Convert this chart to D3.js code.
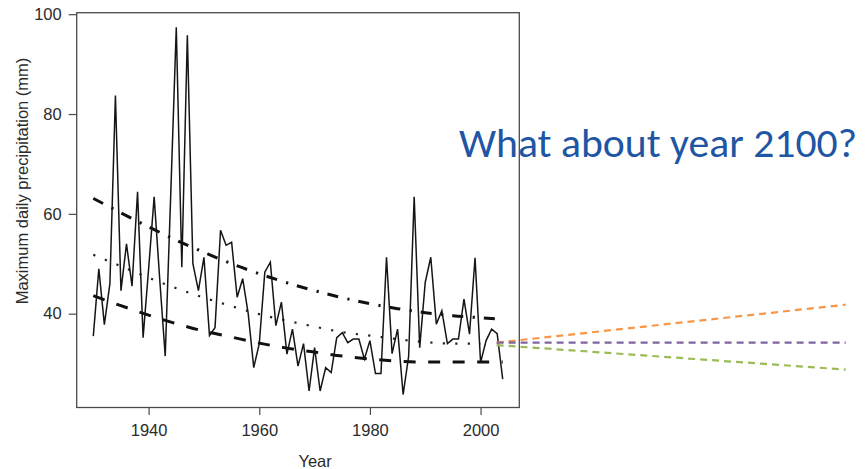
<!DOCTYPE html>
<html>
<head>
<meta charset="utf-8">
<script src="https://cdn.jsdelivr.net/npm/d3@7"></script>
<style>
  html, body { margin: 0; padding: 0; background: #fff; }
  svg { display: block; }
</style>
</head>
<body>
<svg id="chart" width="866" height="469"></svg>
<script>
// ---------- data ----------
const years = d3.range(1930, 2005);
const maxPrecip = [
  35.5, 49, 37.8, 46, 83.7, 44.6, 54, 45.5, 64.4, 35.2,
  49, 63.4, 47, 31.5, 64, 97.4, 49.3, 95.8, 50, 44.6,
  51.3, 35.6, 37.2, 56.7, 53.7, 54.3, 43.3, 47, 40, 29.2,
  34, 48.3, 50.3, 37.6, 42.3, 31.9, 36.9, 29.5, 34, 24.5,
  33.2, 24.5, 29.2, 28.2, 35.2, 36.2, 34.2, 34.9, 34.9, 30.9,
  34.6, 28, 28, 51.3, 32, 36.9, 23.8, 31.5, 63.4, 33.2,
  46.3, 51.3, 37.9, 40.6, 34, 34.9, 34.9, 42.9, 35.9, 51.2,
  30.2, 34.6, 36.9, 36, 26.9
];

const trendYears = [1930, 1935, 1940, 1945, 1950, 1955, 1960, 1965, 1970, 1975, 1980, 1985, 1990, 1995, 2000, 2004];
const upperTrend  = [63.1, 60.2, 57.4, 54.7, 52.3, 50.0, 48.0, 46.2, 44.6, 43.2, 42.0, 41.0, 40.2, 39.6, 39.2, 38.9];
const middleTrend = [51.8, 49.5, 47.2, 45.1, 43.2, 41.5, 39.9, 38.6, 37.4, 36.3, 35.6, 34.9, 34.3, 34.0, 34.0, 34.0];
const lowerTrend  = [43.6, 41.6, 39.7, 38.0, 36.5, 35.3, 34.1, 33.1, 32.3, 31.5, 30.9, 30.5, 30.3, 30.3, 30.3, 30.3];

const projYears = [2002.9, 2066];
const projUp   = [34.2, 41.8];
const projFlat = [34.2, 34.2];
const projDown = [33.7, 28.8];

const xTicks = [1940, 1960, 1980, 2000];
const yTicks = [40, 60, 80, 100];

const yLabel = "Maximum daily precipitation (mm)";
const xLabel = "Year";
const question = "What about year 2100?";

// ---------- layout ----------
const svg = d3.select("#chart");
const box = { left: 76.7, right: 519.3, top: 12.7, bottom: 407.5 };

const x = d3.scaleLinear().domain([1927, 2007]).range([box.left, box.right]);
const y = d3.scaleLinear().domain([21.2, 100.3]).range([box.bottom, box.top]);

const axisFont = "'Liberation Sans', Arial, Helvetica, sans-serif";
const axisColor = "#4a4a4a";

// axes
const gx = svg.append("g").attr("transform", `translate(0,${box.bottom})`)
  .call(d3.axisBottom(x).tickValues(xTicks).tickFormat(d3.format("d")).tickSize(7.5).tickPadding(9));
const gy = svg.append("g").attr("transform", `translate(${box.left},0)`)
  .call(d3.axisLeft(y).tickValues(yTicks).tickSize(8).tickPadding(7));
[gx, gy].forEach(g => {
  g.select(".domain").remove();
  g.selectAll(".tick line").attr("stroke", axisColor).attr("stroke-width", 1.2);
  g.selectAll(".tick text").attr("fill", "#2b2b2b").style("font-family", axisFont).style("font-size", "16.5px");
});

// frame
svg.append("rect")
  .attr("x", box.left).attr("y", box.top)
  .attr("width", box.right - box.left).attr("height", box.bottom - box.top)
  .attr("fill", "none").attr("stroke", axisColor).attr("stroke-width", 1.3);

// axis titles
svg.append("text")
  .attr("x", x((xTicks[0] + xTicks[xTicks.length - 1]) / 2) + 0.5)
  .attr("y", 467)
  .attr("text-anchor", "middle")
  .attr("fill", "#2b2b2b")
  .style("font-family", axisFont).style("font-size", "16.5px")
  .text(xLabel);

svg.append("text")
  .attr("transform", "translate(28,181) rotate(-90)")
  .attr("text-anchor", "middle")
  .attr("fill", "#2b2b2b")
  .style("font-family", axisFont).style("font-size", "16.5px")
  .text(yLabel);

// trend lines
const trendLine = d3.line().x(d => x(d[0])).y(d => y(d[1])).curve(d3.curveMonotoneX);
const zipT = vals => trendYears.map((t, i) => [t, vals[i]]);

svg.append("path").datum(zipT(upperTrend)).attr("d", trendLine)
  .attr("fill", "none").attr("stroke", "#111").attr("stroke-width", 3)
  .attr("stroke-dasharray", "11,9.5,2.2,9");
svg.append("path").datum(zipT(middleTrend).filter(d => d[0] <= 2003)).attr("d", trendLine)
  .attr("fill", "none").attr("stroke", "#222").attr("stroke-width", 2.2)
  .attr("stroke-dasharray", "2.2,10.3");
svg.append("path").datum(zipT(lowerTrend)).attr("d", trendLine)
  .attr("fill", "none").attr("stroke", "#111").attr("stroke-width", 3)
  .attr("stroke-dasharray", "12,12.5");

// observed series
const dataLine = d3.line().x(d => x(d[0])).y(d => y(d[1]));
svg.append("path").datum(years.map((yr, i) => [yr, maxPrecip[i]])).attr("d", dataLine)
  .attr("fill", "none").attr("stroke", "#151515").attr("stroke-width", 1.5)
  .attr("stroke-linejoin", "miter");

// projection lines
const proj = [
  { vals: projUp, color: "#F79646" },
  { vals: projFlat, color: "#8064A2" },
  { vals: projDown, color: "#9BBB59" }
];
proj.forEach(p => {
  svg.append("path").datum(projYears.map((t, i) => [t, p.vals[i]])).attr("d", dataLine)
    .attr("fill", "none").attr("stroke", p.color).attr("stroke-width", 2.2)
    .attr("stroke-dasharray", "7,5");
});

// question text (sized to span the same width as the reference)
const q = svg.append("text")
  .attr("x", 459).attr("y", 156.5)
  .attr("fill", "#1F56A3")
  .style("font-family", "Carlito, Lato, 'Open Sans', sans-serif")
  .style("font-size", "35px")
  .text(question);
const w = q.node().getComputedTextLength();
const target = 398;
q.style("font-size", (35 * target / w).toFixed(2) + "px");
</script>
</body>
</html>
